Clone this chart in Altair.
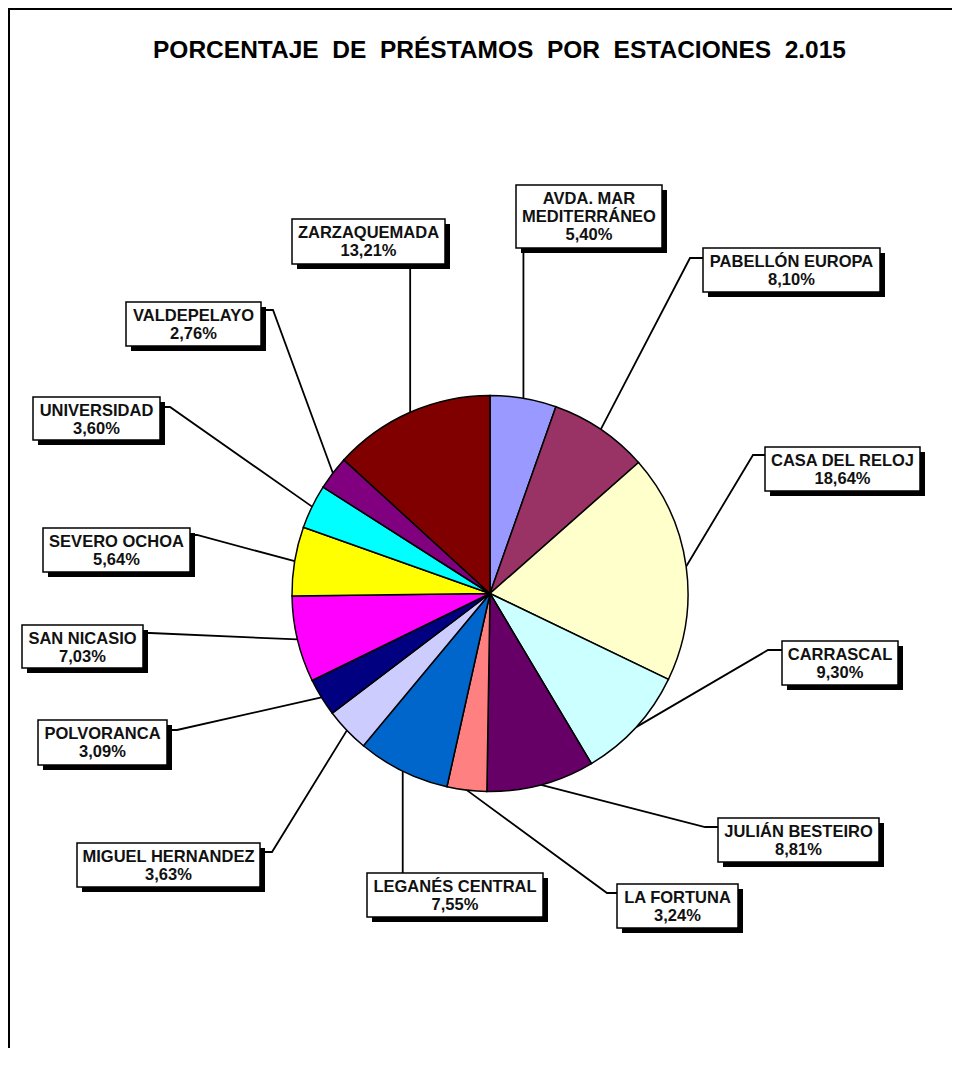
import math
import altair as alt
import pandas as pd

# ---------------- data ----------------
stations = [
    "AVDA. MAR MEDITERRÁNEO", "PABELLÓN EUROPA", "CASA DEL RELOJ", "CARRASCAL",
    "JULIÁN BESTEIRO", "LA FORTUNA", "LEGANÉS CENTRAL", "MIGUEL HERNANDEZ",
    "POLVORANCA", "SAN NICASIO", "SEVERO OCHOA", "UNIVERSIDAD",
    "VALDEPELAYO", "ZARZAQUEMADA",
]
percentages = [5.40, 8.10, 18.64, 9.30, 8.81, 3.24, 7.55, 3.63,
               3.09, 7.03, 5.64, 3.60, 2.76, 13.21]
colors = ["#9999FF", "#993366", "#FFFFCC", "#CCFFFF", "#660066", "#FF8080",
          "#0066CC", "#CCCCFF", "#000080", "#FF00FF", "#FFFF00", "#00FFFF",
          "#800080", "#800000"]
title_text = "PORCENTAJE DE PRÉSTAMOS POR ESTACIONES 2.015"
wrap = {"AVDA. MAR MEDITERRÁNEO": "AVDA. MAR\nMEDITERRÁNEO"}

# ---------------- layout (page pixels) ----------------
CX, CY, R = 490, 593.5, 198
boxes = [
    (516, 185, 662, 248), (703, 248, 880, 292), (765, 447, 920, 491),
    (782, 641, 898, 685), (718, 818, 879, 862), (617, 884, 738, 928),
    (367, 873, 543, 917), (77, 843, 260, 887), (38, 720, 167, 765),
    (22, 625, 143, 668), (43, 528, 190, 572), (33, 397, 160, 440),
    (126, 302, 261, 346), (292, 219, 445, 264),
]
elbows = [
    None, (690, 258), (753, 455), (768, 650), (705, 827), (607, 893),
    None, (272, 852), (177, 730), (150, 633), (197, 535), (170, 407),
    (273, 310), None,
]
attach = [
    ("pie", 248), (703, 258), (765, 455), (782, 650), (718, 827), (617, 893),
    ("pie", 873), (260, 852), (167, 730), (143, 633), (190, 535), (160, 407),
    (261, 310), ("pie", 264),
]
SHADOW = 5

# ---------------- build tables ----------------
pie_df = pd.DataFrame({"station": stations, "value": percentages,
                       "idx": list(range(len(stations)))})

line_rows, box_rows = [], []
cum = 0.0
for i, (s, v) in enumerate(zip(stations, percentages)):
    mid = (cum + v / 2) / 100 * 2 * math.pi
    cum += v
    px = CX + R * math.sin(mid)
    py = CY - R * math.cos(mid)
    pts = [(px, py)]
    if elbows[i] is not None:
        pts.append(elbows[i])
    ax, ay = attach[i]
    if ax == "pie":
        ax = px
    pts.append((ax, ay))
    for k, (x, y) in enumerate(pts):
        line_rows.append({"station": s, "k": k, "x": x, "y": y})
    x0, y0, x1, y1 = boxes[i]
    label = wrap.get(s, s) + "\n" + f"{v:.2f}".replace(".", ",") + "%"
    box_rows.append({"station": s, "x0": x0, "y0": y0, "x1": x1, "y1": y1,
                     "sx0": x0 + SHADOW, "sy0": y0 + SHADOW,
                     "sx1": x1 + SHADOW, "sy1": y1 + SHADOW,
                     "cx": (x0 + x1) / 2, "ty": y0 + 5.5,
                     "label": label})
line_df = pd.DataFrame(line_rows)
box_df = pd.DataFrame(box_rows)

W, H = 944, 1040
xs = alt.Scale(domain=[8, 8 + W], nice=False, zero=False)
ys = alt.Scale(domain=[8, 8 + H], nice=False, zero=False, reverse=True)
FONT = "Liberation Sans"

top_edge = alt.Chart(pd.DataFrame({"y": [9]})).mark_rule(color="black", strokeWidth=2).encode(
    y=alt.Y("y:Q", scale=ys, axis=None), x=alt.value(0), x2=alt.value(W))
left_edge = alt.Chart(pd.DataFrame({"x": [9]})).mark_rule(color="black", strokeWidth=2).encode(
    x=alt.X("x:Q", scale=xs, axis=None), y=alt.value(0), y2=alt.value(H))

title_shown = title_text.replace(" ", "\u00a0\u00a0")
title = alt.Chart(pd.DataFrame({"t": [title_shown], "x": [499.5], "y": [57.5]})).mark_text(
    font=FONT, fontSize=24.5, fontWeight="bold", color="black", baseline="alphabetic", align="center"
).encode(x=alt.X("x:Q", scale=xs, axis=None), y=alt.Y("y:Q", scale=ys, axis=None), text="t:N")

leaders = alt.Chart(line_df).mark_line(color="black", strokeWidth=1.8).encode(
    x=alt.X("x:Q", scale=xs, axis=None), y=alt.Y("y:Q", scale=ys, axis=None),
    detail="station:N", order="k:Q")

pie = alt.Chart(pie_df).mark_arc(radius=R, stroke="black", strokeWidth=1.5).encode(
    theta=alt.Theta("value:Q", stack=True),
    color=alt.Color("station:N", scale=alt.Scale(domain=stations, range=colors), legend=None),
    order=alt.Order("idx:Q"),
    x=alt.value(CX - 8), y=alt.value(CY - 8))

shadow = alt.Chart(box_df).mark_rect(color="black").encode(
    x=alt.X("sx0:Q", scale=xs, axis=None), x2="sx1:Q",
    y=alt.Y("sy0:Q", scale=ys, axis=None), y2="sy1:Q")

box = alt.Chart(box_df).mark_rect(fill="white", stroke="black", strokeWidth=1.5).encode(
    x=alt.X("x0:Q", scale=xs, axis=None), x2="x1:Q",
    y=alt.Y("y0:Q", scale=ys, axis=None), y2="y1:Q")

text = alt.Chart(box_df).mark_text(
    font=FONT, fontSize=16.5, fontWeight="bold", color="#111111", lineBreak="\n",
    lineHeight=18, align="center", baseline="top"
).encode(x=alt.X("cx:Q", scale=xs, axis=None), y=alt.Y("ty:Q", scale=ys, axis=None),
         text="label:N")

chart = alt.layer(top_edge, left_edge, title, leaders, pie, shadow, box, text).properties(
    width=W, height=H, padding=0, autosize=alt.AutoSizeParams(type="none"),
    background="white"
).configure_view(strokeWidth=0, strokeOpacity=0, fillOpacity=0)

chart.save("out.html", embed_options={"renderer": "svg", "actions": False})
